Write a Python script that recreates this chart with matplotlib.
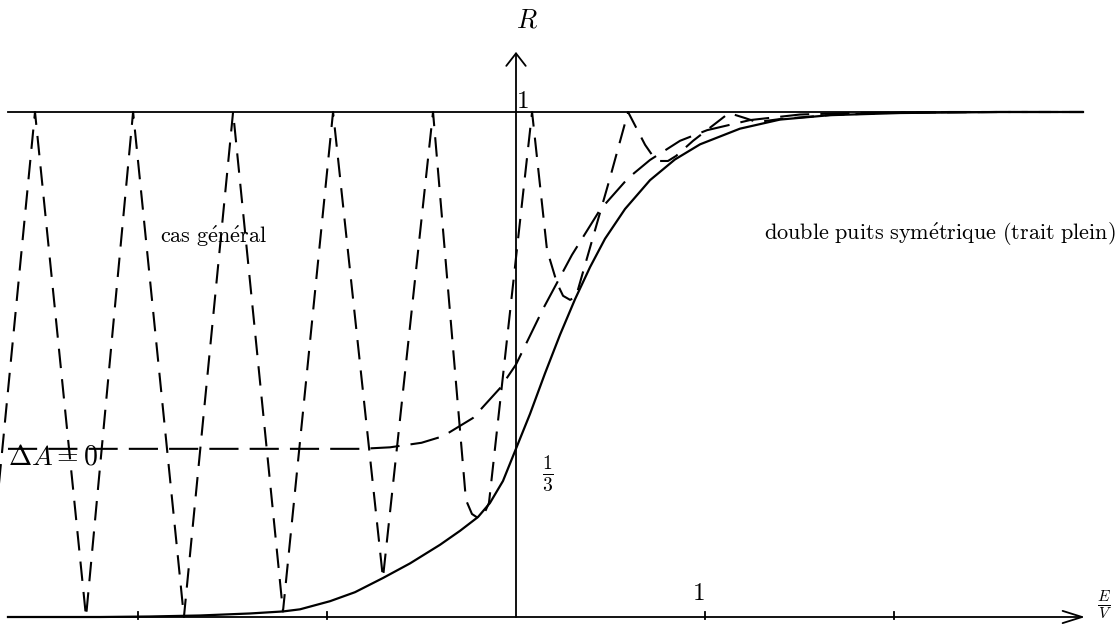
import matplotlib
matplotlib.use("Agg")
import matplotlib.pyplot as plt

plt.rcParams["mathtext.fontset"] = "cm"
plt.rcParams["lines.scale_dashes"] = False

# Symmetric double well: reflection coefficient R vs E/V (solid line)
sym_x = [-2.688, -2.201, -1.937, -1.672, -1.407, -1.233, -1.143, -0.984, -0.852,
         -0.704, -0.561, -0.402, -0.296, -0.201, -0.138, -0.069, 0.0, 0.074,
         0.153, 0.233, 0.312, 0.392, 0.471, 0.577, 0.709, 0.841, 0.974, 1.185,
         1.397, 1.661, 2.032, 2.561, 3.0]
sym_r = [0.0, 0.0, 0.001, 0.003, 0.007, 0.011, 0.0152, 0.0313, 0.0491,
         0.0772, 0.1061, 0.1430, 0.1707, 0.1980, 0.2257, 0.2693, 0.3333, 0.402,
         0.482, 0.559, 0.629, 0.693, 0.749, 0.808, 0.865, 0.906, 0.936, 0.967,
         0.985, 0.9937, 0.998, 1.0, 1.0]

# Delta A = 0 (long dashes)
da0_x = [-2.688, -0.820, -0.667, -0.500, -0.386, -0.228, -0.085, 0.0, 0.143,
         0.296, 0.444, 0.593, 0.709, 0.868, 1.011, 1.238, 1.503, 1.767, 2.296, 3.0]
da0_r = [0.333, 0.333, 0.336, 0.345, 0.358, 0.394, 0.453, 0.500, 0.610,
         0.717, 0.806, 0.869, 0.905, 0.943, 0.964, 0.984, 0.995, 0.998, 1.0, 1.0]

# General case (short dashes), oscillating between the solid curve and 1
gen_x = [-2.804, -2.545, -2.275, -2.026, -1.757, -1.497, -1.233, -0.968, -0.704,
         -0.439, -0.265, -0.233, -0.201, -0.169, -0.143, 0.085,
         0.164, 0.217, 0.249, 0.286, 0.317, 0.497, 0.593,
         0.683, 0.720, 0.762, 0.804, 0.847, 0.937, 1.127, 1.212, 1.275, 1.397,
         1.661, 2.032, 2.561, 3.0]
gen_r = [0.0, 1.0, 0.0, 1.0, 0.0, 1.0, 0.011, 1.0, 0.0772,
         1.0, 0.232, 0.204, 0.196, 0.204, 0.226, 1.0,
         0.727, 0.661, 0.636, 0.628, 0.634, 0.869, 1.0,
         0.935, 0.915, 0.903, 0.903, 0.913, 0.943, 0.998, 0.988, 0.980, 0.986,
         0.994, 0.999, 1.0, 1.0]

x_ticks = [-2, -1, 1, 2]

fig = plt.figure(figsize=(11.19, 6.28), dpi=100)
ax = fig.add_axes([0, 0, 1, 1])
ax.set_xlim(-2.7302, 3.1905)
ax.set_ylim(-0.02178, 1.22178)
ax.axis("off")

lw = 1.3
# axes and the R = 1 level
ax.annotate("", xy=(3.011, 0), xytext=(-2.688, 0),
            arrowprops=dict(arrowstyle="->,head_length=0.7,head_width=0.22",
                            lw=lw, color="black", mutation_scale=20,
                            shrinkA=0, shrinkB=0))
ax.annotate("", xy=(0, 1.119), xytext=(0, 0),
            arrowprops=dict(arrowstyle="->,head_length=0.45,head_width=0.35",
                            lw=lw, color="black", mutation_scale=20,
                            shrinkA=0, shrinkB=0))
ax.plot([-2.688, 3.0], [1, 1], color="black", lw=lw)
for t in x_ticks:
    ax.plot([t, t], [-0.004, 0.009], color="black", lw=lw)

ax.plot(sym_x, sym_r, color="black", lw=1.6, solid_joinstyle="round")
ax.plot(da0_x, da0_r, color="black", lw=1.5, linestyle=(0, (21, 8)))
ax.plot(gen_x, gen_r, color="black", lw=1.5, linestyle=(0, (14, 8)))

ax.text(0.058, 1.182, r"$R$", fontsize=19, ha="center", va="center")
ax.text(0.032, 1.022, r"$1$", fontsize=18, ha="center", va="center")
ax.text(0.963, 0.048, r"$1$", fontsize=18, ha="center", va="center")
ax.text(0.169, 0.285, r"$\frac{1}{3}$", fontsize=20, ha="center", va="center")
ax.text(-2.688, 0.317, r"$\Delta A = 0$", fontsize=20, ha="left", va="center")
ax.text(-1.884, 0.754, r"$\mathrm{cas\ g\acute{e}n\acute{e}ral}$",
        fontsize=16, ha="left", va="center")
ax.text(3.175, 0.758, r"$\mathrm{double\ puits\ sym\acute{e}trique\ (trait\ plein)}$",
        fontsize=16, ha="right", va="center")
ax.text(3.074, 0.024, r"$\frac{E}{V}$", fontsize=16, ha="left", va="center")

fig.savefig("out.png", dpi=100)
